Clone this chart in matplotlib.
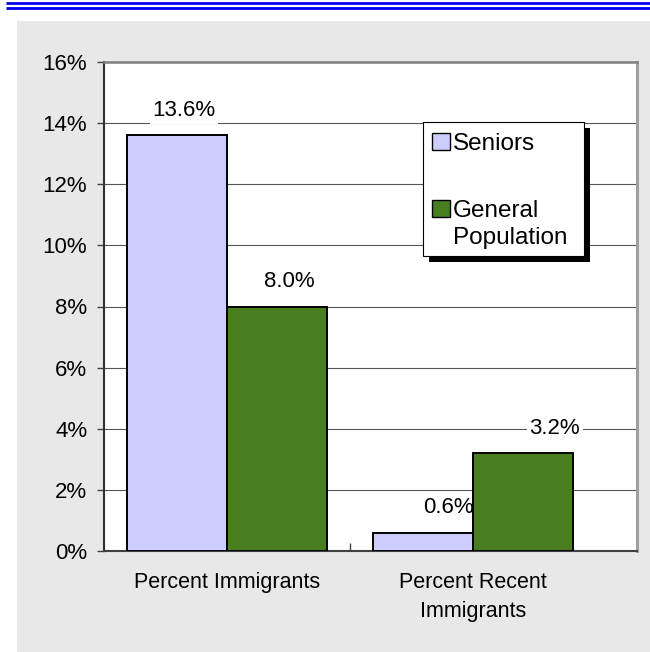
import numpy as np
import matplotlib.pyplot as plt
from matplotlib.patches import Rectangle
from matplotlib.lines import Line2D

plt.rcParams['font.family'] = ['Liberation Sans', 'DejaVu Sans']

categories = ['Percent Immigrants', 'Percent Recent\nImmigrants']
series = ['Seniors', 'General\nPopulation']
seniors = [13.6, 0.6]
general = [8.0, 3.2]
yticks = [0, 2, 4, 6, 8, 10, 12, 14, 16]

colors = ['#CCCCFF', '#487E1E']
W, H = 650, 652


def fx(px):
    return px / W


def fy(py):
    return 1 - py / H


fig = plt.figure(figsize=(6.5, 6.52), dpi=100)

# gray panel and blue double rule at the top
fig.add_artist(Rectangle((fx(17), 0), 1 - fx(17), fy(21), transform=fig.transFigure,
                         facecolor='#E8E8E8', edgecolor='none', zorder=0))
for y in [3.3, 7.6]:
    fig.add_artist(Line2D([fx(6), 1], [fy(y), fy(y)], transform=fig.transFigure,
                          color='#0000F0', lw=2.0, solid_capstyle='butt'))

ax = fig.add_axes([fx(104), fy(551), fx(636.7) - fx(104), fy(62) - fy(551)])
ax.set_facecolor('white')

x = np.arange(len(categories))
w = 0.405
b1 = ax.bar(x - w / 2, seniors, w, color=colors[0], edgecolor='black', lw=1.4, zorder=3)
b2 = ax.bar(x + w / 2, general, w, color=colors[1], edgecolor='black', lw=1.4, zorder=3)

# value labels (offsets in points, as drawn in the original)
label_dx = [[5, 18], [9, 23]]
for bars, dxs in zip([b1, b2], label_dx):
    for rect, dx in zip(bars, dxs):
        v = rect.get_height()
        ax.annotate(f'{v:.1f}%', (rect.get_x() + rect.get_width() / 2, v),
                    xytext=(dx, 18), textcoords='offset points',
                    ha='center', va='center', fontsize=16, zorder=2.5,
                    bbox=dict(facecolor='white', edgecolor='none', pad=2))

ax.set_xlim(-0.5, 1.6654)
ax.set_ylim(0, 16)
ax.set_yticks(yticks)
ax.set_yticklabels([f'{t}%' for t in yticks], fontsize=16)
ax.set_xticks(x)
ax.set_xticklabels(categories, fontsize=15.5, linespacing=1.5)
ax.set_xticks([0.5], minor=True)
ax.tick_params(axis='x', which='major', length=0, pad=15)
ax.tick_params(axis='x', which='minor', direction='in', length=6, color='#404040', width=1)
ax.tick_params(axis='y', direction='out', length=5, color='#404040', width=1, pad=7)

ax.grid(axis='y', color='#555555', lw=0.8, zorder=1)
ax.set_axisbelow(True)

ax.spines['left'].set_color('#303030')
ax.spines['left'].set_linewidth(1.5)
ax.spines['bottom'].set_color('#404040')
ax.spines['bottom'].set_linewidth(1.5)
ax.spines['top'].set_color('#808080')
ax.spines['top'].set_linewidth(1.8)
ax.spines['right'].set_color('#A0A0A0')
ax.spines['right'].set_linewidth(2.2)

# legend box with hard black shadow
fig.add_artist(Rectangle((fx(429), fy(262)), fx(590) - fx(429), fy(128) - fy(262),
                         transform=fig.transFigure, facecolor='black', edgecolor='none', zorder=5))
fig.add_artist(Rectangle((fx(423), fy(256)), fx(584) - fx(423), fy(122) - fy(256),
                         transform=fig.transFigure, facecolor='white', edgecolor='black',
                         lw=0.8, zorder=6))
sq_top = [133, 200]
baselines = [149.5, 217]
for name, c, top, base in zip(series, colors, sq_top, baselines):
    fig.add_artist(Rectangle((fx(432), fy(top + 17)), fx(450) - fx(432), fy(top) - fy(top + 17),
                             transform=fig.transFigure, facecolor=c, edgecolor='black',
                             lw=1, zorder=7))
    for i, line in enumerate(name.split('\n')):
        fig.text(fx(453), fy(base + i * 26.7), line, fontsize=17.5, va='baseline',
                 ha='left', zorder=8)

fig.savefig('out.png', dpi=100)
